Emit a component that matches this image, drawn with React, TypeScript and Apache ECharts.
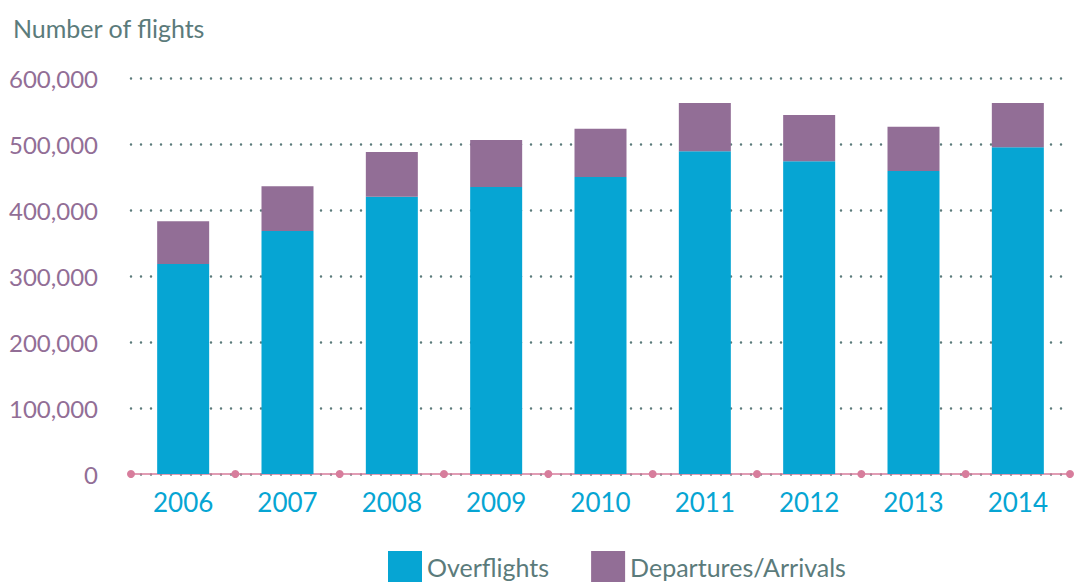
import React, { useEffect, useRef } from "react";
import * as echarts from "echarts";

const categories = ["2006", "2007", "2008", "2009", "2010", "2011", "2012", "2013", "2014"];
const overflights = [318000, 368000, 420000, 435000, 450000, 489000, 474000, 459000, 495000];
const departuresArrivals = [65000, 68000, 68000, 71000, 73000, 73000, 70000, 67000, 67000];
const yTicks = [0, 100000, 200000, 300000, 400000, 500000, 600000];

const FONT = "Lato, 'Open Sans', sans-serif";
const CYAN = "#06a5d3";
const PURPLE = "#926e96";
const TEXT = "#5b7b7b";
const AXIS = "#d77d9c";

export default function App() {
  const ref = useRef<HTMLDivElement>(null);
  useEffect(() => {
    document.body.style.margin = "0";
    const chart = echarts.init(ref.current!, null, { renderer: "svg" });
    chart.setOption({
      animation: false,
      title: {
        text: "Number of flights",
        left: 8,
        top: 10,
        textStyle: { color: TEXT, fontFamily: FONT, fontSize: 25, fontWeight: "normal" },
      },
      legend: {
        top: 551,
        left: 388,
        padding: 0,
        itemWidth: 34,
        itemHeight: 31,
        itemGap: 42,
        icon: "rect",
        data: ["Overflights", "Departures/Arrivals"],
        textStyle: { color: TEXT, fontFamily: FONT, fontSize: 25 },
      },
      grid: { left: 131, right: 13, top: 78, bottom: 108 },
      xAxis: {
        type: "category",
        data: categories,
        axisLine: { show: true, lineStyle: { color: AXIS, width: 1.5 } },
        axisTick: { show: false },
        axisLabel: { color: CYAN, fontFamily: FONT, fontSize: 26, margin: 15 },
      },
      yAxis: {
        type: "value",
        min: 0,
        max: 600000,
        interval: 100000,
        axisLine: { show: false },
        axisTick: { show: false },
        axisLabel: {
          color: PURPLE,
          fontFamily: FONT,
          fontSize: 24,
          margin: 33,
          formatter: (v: number) => (yTicks.includes(v) ? v.toLocaleString("en-US") : ""),
        },
        splitLine: {
          show: true,
          lineStyle: { color: TEXT, width: 2.5, type: [0, 10], cap: "round" },
        },
      },
      series: [
        {
          name: "Overflights",
          type: "bar",
          stack: "total",
          data: overflights,
          barWidth: 52,
          itemStyle: { color: CYAN },
        },
        {
          name: "Departures/Arrivals",
          type: "bar",
          stack: "total",
          data: departuresArrivals,
          barWidth: 52,
          itemStyle: { color: PURPLE },
        },
        {
          type: "custom",
          silent: true,
          clip: false,
          z: 10,
          data: categories.map((_, i) => [i, 0]),
          renderItem: (params: any, api: any) => {
            const idx = api.value(0);
            const p = api.coord([idx, 0]);
            const bw = api.size([1, 0])[0];
            const children: any[] = [
              { type: "circle", shape: { cx: p[0] - bw / 2, cy: p[1], r: 4 }, style: { fill: AXIS } },
            ];
            if (idx === categories.length - 1) {
              children.push({ type: "circle", shape: { cx: p[0] + bw / 2, cy: p[1], r: 4 }, style: { fill: AXIS } });
            }
            return { type: "group", children };
          },
        },
      ],
    });
    return () => chart.dispose();
  }, []);
  return <div ref={ref} style={{ width: 1083, height: 582 }} />;
}
